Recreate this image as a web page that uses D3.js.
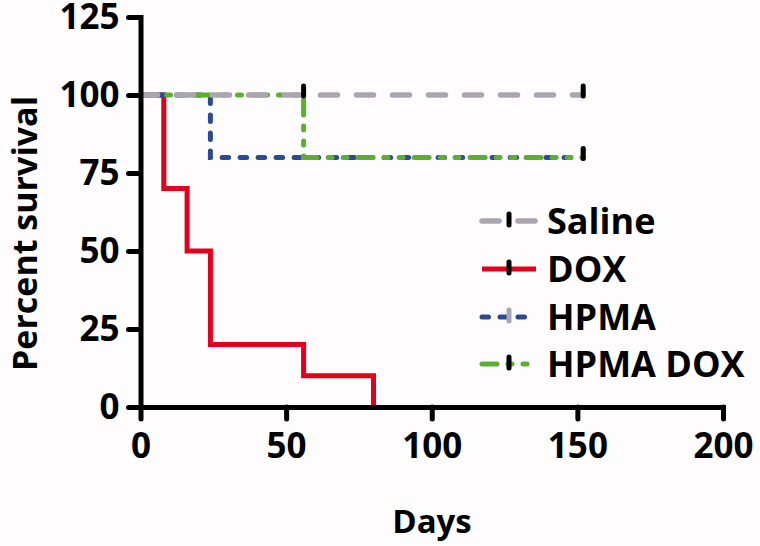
<!DOCTYPE html>
<html>
<head>
<meta charset="utf-8">
<script src="https://cdn.jsdelivr.net/npm/d3@7"></script>
<style>
  html, body { margin: 0; padding: 0; background: #fefcfd; }
  svg { display: block; }
</style>
</head>
<body>
<svg id="chart" width="760" height="546"></svg>
<script>
// ---------- DATA ----------
const seriesNames = ["Saline", "DOX", "HPMA", "HPMA DOX"];
const salineDays = [0, 152];
const salineSurvival = [100, 100];
const doxDays = [0, 8, 16, 24, 56, 80];
const doxSurvival = [100, 70, 50, 20, 10, 0];
const hpmaDays = [0, 24, 152];
const hpmaSurvival = [100, 80, 80];
const hpmaDoxDays = [0, 56, 152];
const hpmaDoxSurvival = [100, 80, 80];
// censored observations (tick marks)
const salineCensorDays = [152];
const salineCensorSurvival = [100];
const hpmaCensorDays = [152];
const hpmaCensorSurvival = [80];
const hpmaDoxCensorDays = [56, 152];
const hpmaDoxCensorSurvival = [100, 80];
const xTicks = [0, 50, 100, 150, 200];
const yTicks = [0, 25, 50, 75, 100, 125];
const xTitle = "Days";
const yTitle = "Percent survival";

// ---------- STYLE ----------
const FONT = "'Open Sans', 'Noto Sans', sans-serif";
const styles = {
  "Saline":   { color: "#aaa5b0", dash: "17,19", width: 5.5, censorColor: "#000" },
  "DOX":      { color: "#e2001a", dash: null, width: 5, censorColor: "#000" },
  "HPMA":     { color: "#2b4a94", dash: "6.5,11.5", width: 5, censorColor: "#aaa5b0" },
  "HPMA DOX": { color: "#5bb031", dash: "15,11,4,11,4,11", width: 5, censorColor: "#000" }
};

const series = {
  "Saline":   { days: salineDays, surv: salineSurvival, cDays: salineCensorDays, cSurv: salineCensorSurvival },
  "DOX":      { days: doxDays, surv: doxSurvival, cDays: [], cSurv: [] },
  "HPMA":     { days: hpmaDays, surv: hpmaSurvival, cDays: hpmaCensorDays, cSurv: hpmaCensorSurvival },
  "HPMA DOX": { days: hpmaDoxDays, surv: hpmaDoxSurvival, cDays: hpmaDoxCensorDays, cSurv: hpmaDoxCensorSurvival }
};

const svg = d3.select("#chart");
const x = d3.scaleLinear().domain([0, 200]).range([140.5, 723]);
const y = d3.scaleLinear().domain([0, 125]).range([407, 17]);

// ---------- CURVES ----------
const line = d3.line().curve(d3.curveStepAfter).x(d => x(d[0])).y(d => y(d[1]));
const drawOrder = ["DOX", "HPMA", "HPMA DOX", "Saline"];
const plot = svg.append("g");
drawOrder.forEach(name => {
  const s = series[name], st = styles[name];
  const pts = s.days.map((d, i) => [d, s.surv[i]]);
  plot.append("path")
    .attr("d", line(pts))
    .attr("fill", "none")
    .attr("stroke", st.color)
    .attr("stroke-width", st.width)
    .attr("stroke-linecap", st.dash ? "round" : "square")
    .attr("stroke-linejoin", "miter")
    .attr("stroke-dasharray", st.dash);
});
// censor ticks
["HPMA", "HPMA DOX", "Saline"].forEach(name => {
  const s = series[name], st = styles[name];
  s.cDays.forEach((d, i) => {
    plot.append("line")
      .attr("x1", x(d)).attr("x2", x(d))
      .attr("y1", y(s.cSurv[i]) - 9).attr("y2", y(s.cSurv[i]) + 1)
      .attr("stroke", st.censorColor)
      .attr("stroke-width", 5)
      .attr("stroke-linecap", "round");
  });
});

// ---------- AXES ----------
const xAxis = svg.append("g")
  .attr("transform", `translate(0,${y(0)})`)
  .call(d3.axisBottom(x).tickValues(xTicks).tickSize(12).tickSizeOuter(0).tickPadding(14));
const yAxis = svg.append("g")
  .attr("transform", `translate(${x(0)},0)`)
  .call(d3.axisLeft(y).tickValues(yTicks).tickSize(12).tickSizeOuter(0).tickPadding(9));
[xAxis, yAxis].forEach(g => {
  g.select(".domain").attr("stroke", "#000").attr("stroke-width", 5).attr("stroke-linecap", "square");
  g.selectAll(".tick line").attr("stroke", "#000").attr("stroke-width", 5).attr("stroke-linecap", "round");
  g.selectAll(".tick text")
    .attr("fill", "#000")
    .style("font-family", FONT)
    .style("font-size", "35px")
    .style("font-weight", "700");
});

// ---------- TITLES ----------
svg.append("text")
  .attr("x", 432).attr("y", 533)
  .attr("text-anchor", "middle")
  .style("font-family", FONT).style("font-size", "33px").style("font-weight", "700")
  .text(xTitle);
svg.append("text")
  .attr("transform", "translate(37,233.5) rotate(-90)")
  .attr("text-anchor", "middle")
  .style("font-family", FONT).style("font-size", "34px").style("font-weight", "700")
  .text(yTitle);

// ---------- LEGEND ----------
const legendY = [221, 269, 317, 364];
const legend = svg.append("g");
seriesNames.forEach((name, i) => {
  const st = styles[name];
  const ly = legendY[i];
  legend.append("line")
    .attr("x1", 482).attr("x2", 536).attr("y1", ly).attr("y2", ly)
    .attr("stroke", st.color).attr("stroke-width", st.width)
    .attr("stroke-linecap", st.dash ? "round" : "butt")
    .attr("stroke-dasharray", st.dash);
  legend.append("line")
    .attr("x1", 509).attr("x2", 509).attr("y1", ly - 7).attr("y2", ly + 4)
    .attr("stroke", st.censorColor).attr("stroke-width", 5).attr("stroke-linecap", "round");
  legend.append("text")
    .attr("x", 547).attr("y", ly)
    .attr("dy", "0.36em")
    .style("font-family", FONT).style("font-size", "36px").style("font-weight", "700")
    .text(name);
});
</script>
</body>
</html>
